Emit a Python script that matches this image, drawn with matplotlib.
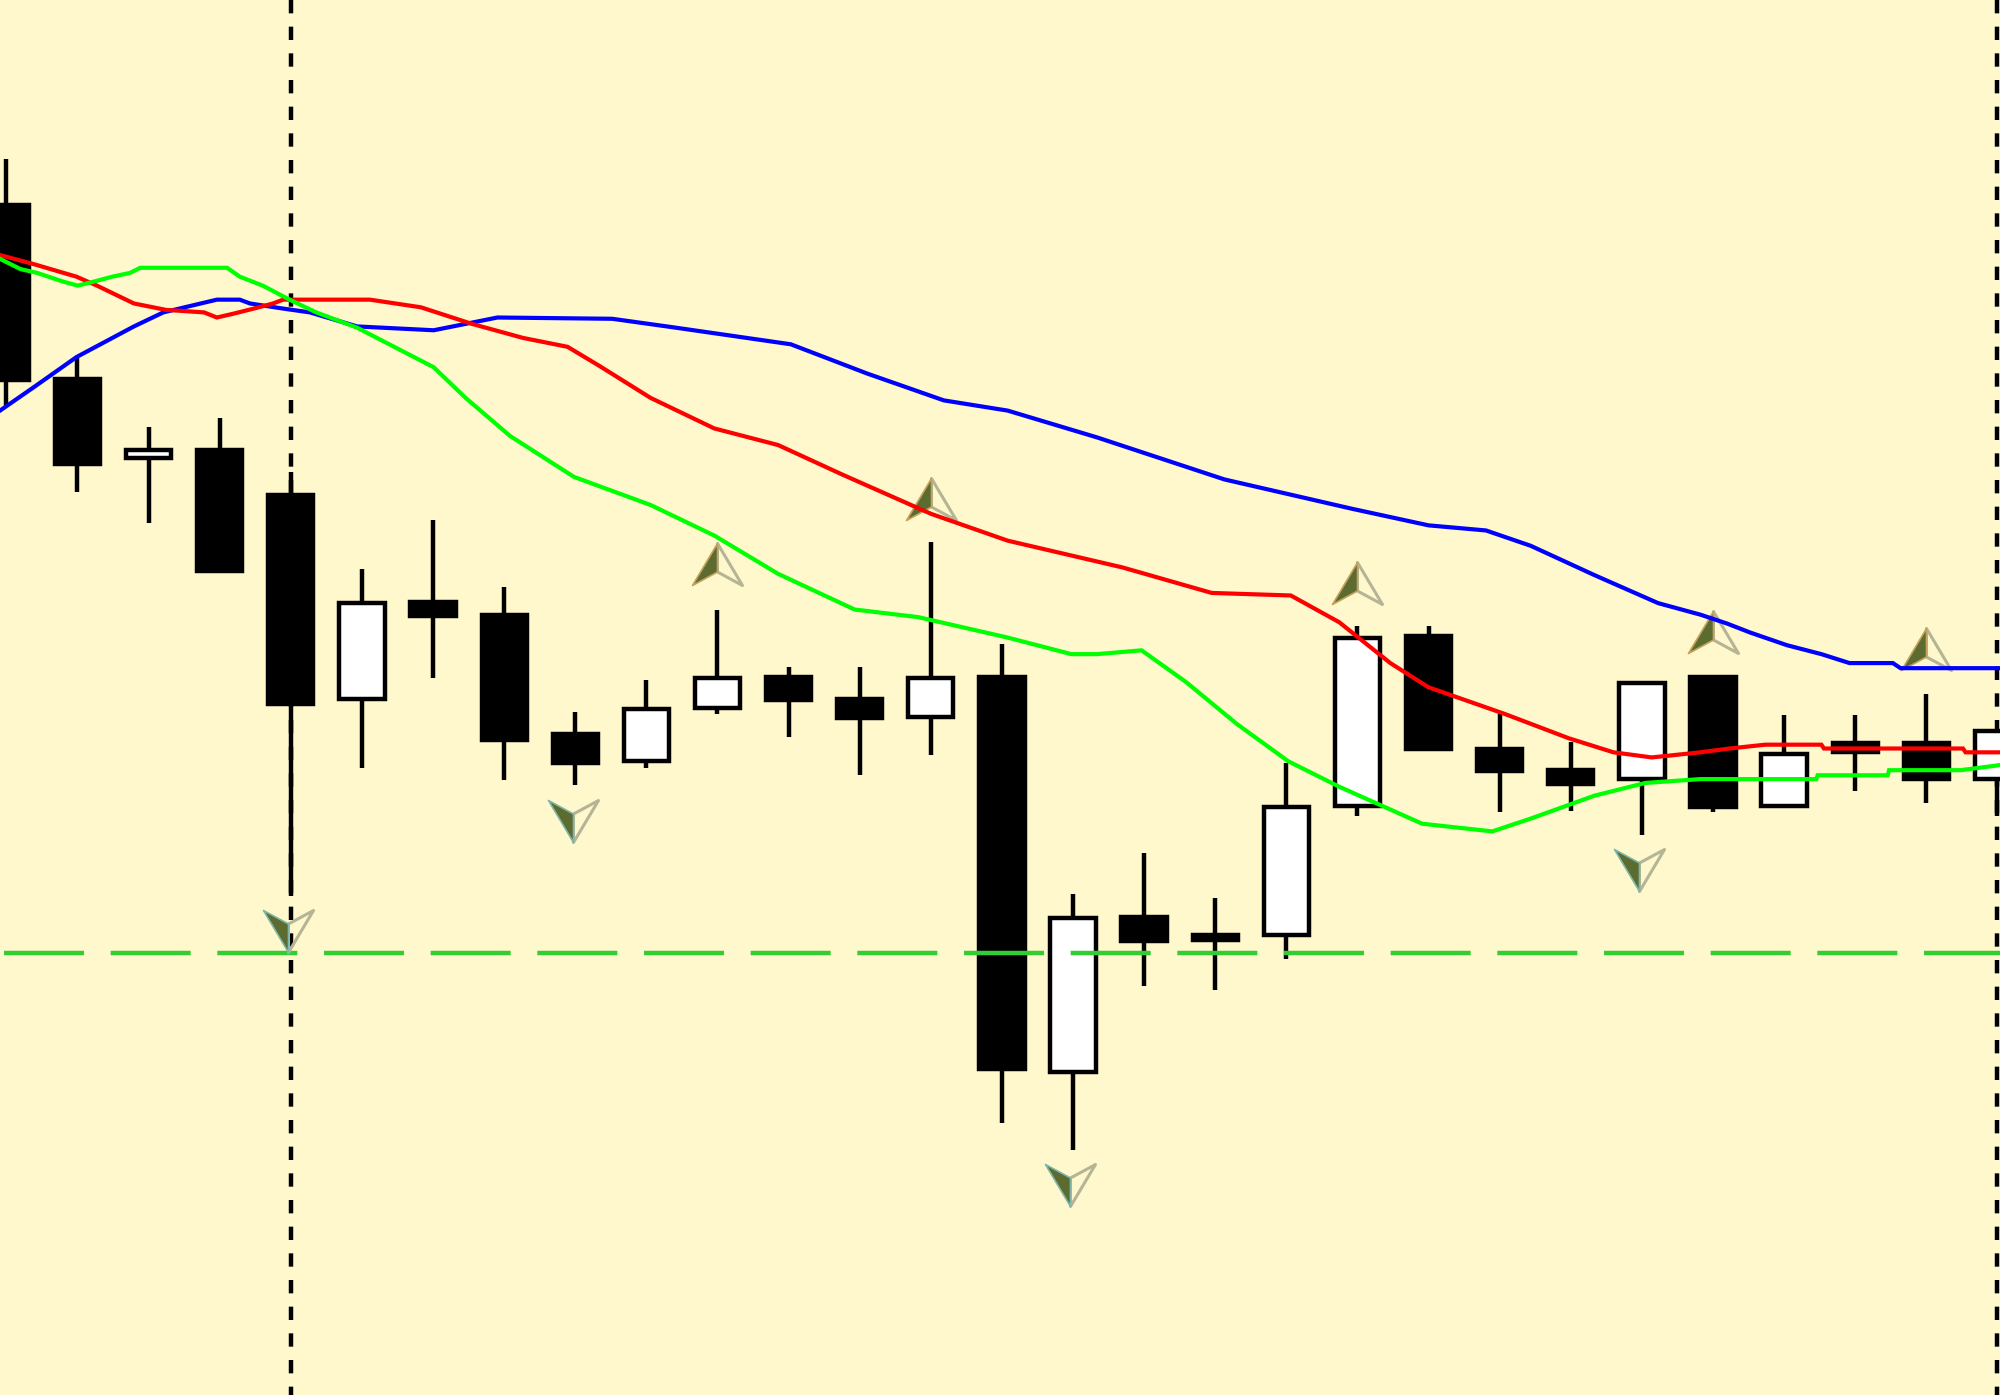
import numpy as np
import matplotlib.pyplot as plt
from matplotlib.path import Path

plt.rcParams['lines.scale_dashes'] = False

# picture units: depth from the top edge, reference shown at 1568x1094
body_top = [160, 296, 352, 352, 387, 472, 471, 481, 575, 555, 531, 530, 547, 531, 530,
            719, 718, 732, 632, 499, 498, 586, 603, 535, 530, 590, 582, 582, 572]
body_bot = [299, 365, 360, 449, 553, 549, 484, 581, 599, 598, 556, 550, 564, 563, 839,
            842, 739, 738, 734, 633, 588, 606, 616, 612, 634, 633, 591, 612, 612]
wick_top = [125, 281, 335, 328, 370, 446, 408, 460, 558, 533, 478, 523, 523, 425, 505,
            701, 669, 704, 598, 491, 491, 560, 582, 537, 532, 561, 561, 544, 574]
wick_bot = [318, 386, 410, 447, 703, 602, 532, 612, 616, 602, 560, 578, 608, 592, 881,
            902, 773, 776, 752, 640, 586, 637, 636, 655, 637, 631, 620, 630, 640]
is_white = [0, 0, 1, 0, 0, 1, 0, 0, 0, 1, 1, 0, 0, 1, 0,
            1, 0, 0, 1, 1, 0, 0, 0, 1, 0, 1, 0, 0, 1]

blue_x = [0, 26, 60, 105, 128, 170, 188, 196, 222, 243, 280, 340, 390, 480, 530, 620, 680, 740,
          790, 860, 960, 1060, 1120, 1165, 1200, 1250, 1300, 1333, 1354, 1372, 1401, 1428, 1450,
          1484, 1490, 1568]
blue_y = [322, 304, 280, 256, 245, 235, 235, 238, 242, 245, 256, 259, 249, 250, 257, 270, 293, 314,
          322, 343, 376, 399, 412, 416, 428, 451, 473, 482, 489, 496, 506, 513, 520,
          520, 524, 524]

red_x = [0, 26, 60, 76, 105, 130, 160, 170, 183, 199, 214, 222, 290, 330, 370, 410, 445, 470,
         510, 560, 610, 660, 730, 790, 880, 950, 1012, 1050, 1090, 1120, 1180, 1230, 1265, 1295,
         1333, 1356, 1384, 1428, 1430, 1539, 1541, 1568]
red_y = [200, 207, 217, 224, 238, 243, 245, 249, 246, 242, 238, 235, 235, 241, 254, 265, 272, 287,
         312, 336, 349, 372, 403, 424, 445, 465, 467, 488, 520, 539, 560, 579, 590, 594,
         590, 587, 584, 584, 587, 587, 590, 590]

green_x = [0, 16, 29, 50, 61, 73, 88, 102, 110, 178, 188, 206, 227, 248, 280, 340, 365, 400, 450,
           510, 560, 610, 670, 720, 790, 840, 860, 895, 930, 970, 1010, 1050, 1115, 1170, 1200,
           1250, 1290, 1333, 1424, 1425, 1480, 1481, 1537, 1568]
green_y = [203, 211, 214, 221, 224, 221, 217, 214, 210, 210, 217, 224, 235, 245, 257, 288, 312, 342, 374,
           396, 420, 450, 478, 484, 500, 513, 513, 510, 535, 568, 597, 617, 646, 652, 642,
           624, 614, 611, 611, 608, 608, 604, 604, 600]

arrow_up_i = [10, 13, 19, 24, 27]
arrow_up_y = [442, 391, 457, 496, 509]
arrow_dn_i = [4, 8, 15, 23]
arrow_dn_y = [730, 644, 929, 682]

vline_i = [4, 28]
level_y = 747

bar_step = 55.75   # picture units per candle
first_bar = 5
n = np.arange(len(body_top))
x = first_bar + n * bar_step

fig = plt.figure(figsize=(20, 13.95), dpi=100, facecolor='#FFF8CC')
ax = fig.add_axes([0, 0, 1, 1], facecolor='#FFF8CC')
ax.set_xlim(0, 1568)
ax.set_ylim(1094, 0)
ax.axis('off')

for i in vline_i:
    ax.plot([x[i], x[i]], [0, 1094], color='black', lw=3.2, ls=(0, (9.6, 9.6)), zorder=1)

top = np.array(body_top)
bot = np.array(body_bot)
colors = ['white' if w else 'black' for w in is_white]
ax.vlines(x, wick_top, wick_bot, color='black', lw=3.2, zorder=2)
ax.bar(x, bot - top - 2, bottom=top + 1, width=35.5, color=colors, edgecolor='black', lw=3.2, zorder=3)

ax.plot([3.4, 1568], [level_y, level_y], color='#32CD32', lw=3.2, ls=(0, (57.6, 19.2)), zorder=4)

# up arrow, left half solid and right half only outlined
left_half = Path([(0, 0.84), (-1, -0.84), (0, -0.3), (0, 0.84)], closed=True)
right_half = Path([(0, 0.84), (1, -0.84), (0, -0.3), (0, 0.84)], closed=True)
left_half_dn = Path(-left_half.vertices, left_half.codes)
right_half_dn = Path(-right_half.vertices, right_half.codes)
spine_up = Path([(0, 0.8), (0, -0.3), (1, 0)])
spine_dn = Path([(0, -0.8), (0, 0.3), (1, 0)])
ms = 36
xu = x[arrow_up_i]
xd = x[arrow_dn_i] - 2
ax.plot(xu, arrow_up_y, ls='', marker=right_half, ms=ms, mfc='none', mec='#B5B596', mew=2.2, zorder=5)
ax.plot(xu, arrow_up_y, ls='', marker=left_half, ms=ms, mfc='#5C6B2F', mec='#C4A25C', mew=1.2, zorder=5)
ax.plot(xd, arrow_dn_y, ls='', marker=left_half_dn, ms=ms, mfc='none', mec='#B5B596', mew=2.2, zorder=5)
ax.plot(xd, arrow_dn_y, ls='', marker=right_half_dn, ms=ms, mfc='#5C6B2F', mec='#7FB5A8', mew=1.2, zorder=5)

ax.plot(blue_x, blue_y, color='#0000FF', lw=3, solid_joinstyle='miter', zorder=6)
ax.plot(red_x, red_y, color='#FF0000', lw=3, solid_joinstyle='miter', zorder=7)
ax.plot(green_x, green_y, color='#00FF00', lw=3, solid_joinstyle='miter', zorder=8)

fig.savefig('out.png', dpi=100, facecolor=fig.get_facecolor())
